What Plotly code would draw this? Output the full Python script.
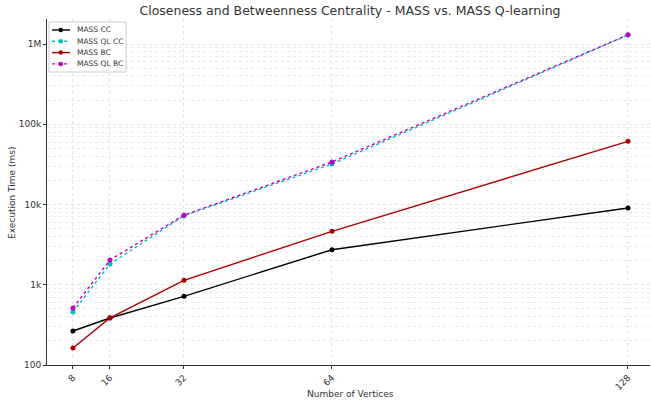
import plotly.graph_objects as go

vertices = [8, 16, 32, 64, 128]
mass_cc = [265, 385, 718, 2733, 9050]
mass_ql_cc = [457, 1814, 7254, 31960, 1294000]
mass_bc = [163, 387, 1136, 4635, 61300]
mass_ql_bc = [513, 2034, 7350, 33850, 1300000]

series = [
    ("MASS CC", mass_cc, "#000000", "solid"),
    ("MASS QL CC", mass_ql_cc, "#00bfbf", "dot"),
    ("MASS BC", mass_bc, "#aa0000", "solid"),
    ("MASS QL BC", mass_ql_bc, "#bf00bf", "dot"),
]

W, H = 651, 402
L, R, T, B = 47, 1, 19, 37
pw, ph = W - L - R, H - T - B

def px(x):
    return (x - L) / pw

def py(y):
    return 1 - (y - T) / ph

fig = go.Figure()
for name, vals, color, dash in series:
    fig.add_trace(go.Scatter(
        x=vertices, y=vals, name=name, mode="lines+markers",
        line=dict(color=color, width=1.4, dash=dash),
        marker=dict(color=color, size=5),
        showlegend=False,
    ))

font = "DejaVu Sans, sans-serif"
shapes = []
annotations = []
# legend box
shapes.append(dict(type="rect", xref="paper", yref="paper",
                   x0=px(49), x1=px(126), y0=py(72), y1=py(22),
                   line=dict(color="#cccccc", width=1), fillcolor="rgba(255,255,255,0.9)",
                   layer="above"))
for i, (name, vals, color, dash) in enumerate(series):
    yc = 30 + i * 11.3
    shapes.append(dict(type="line", xref="paper", yref="paper",
                       x0=px(52), x1=px(70), y0=py(yc), y1=py(yc),
                       line=dict(color=color, width=1.4, dash=dash), layer="above"))
    shapes.append(dict(type="circle", xref="paper", yref="paper",
                       x0=px(58.5), x1=px(63), y0=py(yc + 2.25), y1=py(yc - 2.25),
                       line=dict(color=color, width=0), fillcolor=color, layer="above"))
    annotations.append(dict(text=name, xref="paper", yref="paper", x=px(75), y=py(yc),
                            xanchor="left", yanchor="middle", showarrow=False,
                            font=dict(size=7.5, color="#333333", family=font)))

annotations.append(dict(text="Number of Vertices", xref="paper", yref="paper",
                        x=px(350), y=py(394), xanchor="center", yanchor="middle",
                        showarrow=False, font=dict(size=9, color="#333333", family=font)))
annotations.append(dict(text="Execution Time (ms)", xref="paper", yref="paper",
                        x=px(12), y=py(193), xanchor="center", yanchor="middle",
                        textangle=-90, showarrow=False,
                        font=dict(size=9, color="#333333", family=font)))

fig.update_layout(
    width=W, height=H,
    margin=dict(l=L, r=R, t=T, b=B),
    paper_bgcolor="white", plot_bgcolor="white",
    font=dict(family=font, size=9, color="#333333"),
    title=dict(text="Closeness and Betweenness Centrality - MASS vs. MASS Q-learning",
               x=350 / W, xanchor="center", y=1 - 11 / H, yanchor="middle",
               font=dict(size=12.5, color="#333333")),
    showlegend=False,
    shapes=shapes, annotations=annotations,
)
fig.update_xaxes(
    range=[2.38, 132.76], tickvals=vertices, ticktext=[str(v) for v in vertices],
    tickangle=-45, showgrid=True, gridcolor="#e3e3e3", griddash="dot", gridwidth=1,
    showline=True, linecolor="#333333", linewidth=1, ticks="outside", ticklen=3,
    tickcolor="#333333", zeroline=False, automargin=False,
)
fig.update_yaxes(
    type="log", range=[2, 6.3115], dtick=1, tickformat="~s",
    showgrid=True, gridcolor="#e3e3e3", griddash="dot", gridwidth=1,
    minor=dict(dtick="D1", showgrid=True, gridcolor="#ebebeb", griddash="dot"),
    showline=True, linecolor="#333333", linewidth=1, ticks="outside", ticklen=3,
    tickcolor="#333333", zeroline=False, automargin=False,
)
fig.write_html("out.html", config={"displayModeBar": False},
               post_script="document.body.style.margin='0';document.body.style.padding='0';")
